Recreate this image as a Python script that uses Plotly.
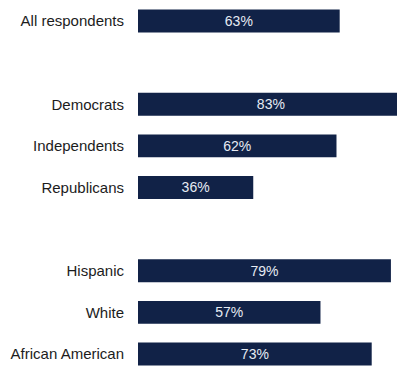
import plotly.graph_objects as go

categories = ["All respondents", " ", "Democrats", "Independents", "Republicans",
              "  ", "Hispanic", "White", "African American"]
values = [63, None, 83, 62, 36, None, 79, 57, 73]
labels = [f"{v}%" if v is not None else "" for v in values]

FONT = "Liberation Sans, Arial, sans-serif"

fig = go.Figure(go.Bar(
    x=values,
    y=categories,
    orientation="h",
    width=0.55,
    marker=dict(color="#112247", line=dict(width=0)),
    text=labels,
    textposition="inside",
    insidetextanchor="middle",
    textangle=0,
    textfont=dict(family=FONT, size=14, color="#e6ebf3"),
    cliponaxis=True,
    hoverinfo="skip",
))

fig.update_layout(
    width=397, height=371,
    margin=dict(l=138, r=0, t=0, b=0),
    paper_bgcolor="white", plot_bgcolor="white",
    showlegend=False,
    xaxis=dict(range=[0, 80.9], visible=False, showgrid=False, zeroline=False,
               fixedrange=True, automargin=False),
    yaxis=dict(
        type="category",
        categoryorder="array", categoryarray=categories,
        range=[8.41, -0.505],
        automargin=False,
        showgrid=False, zeroline=False, showline=False,
        ticks="outside", ticklen=10, tickcolor="rgba(0,0,0,0)",
        tickfont=dict(family=FONT, size=15, color="#1c1c1c"),
        fixedrange=True,
    ),
)

fig.write_html("out.html")
